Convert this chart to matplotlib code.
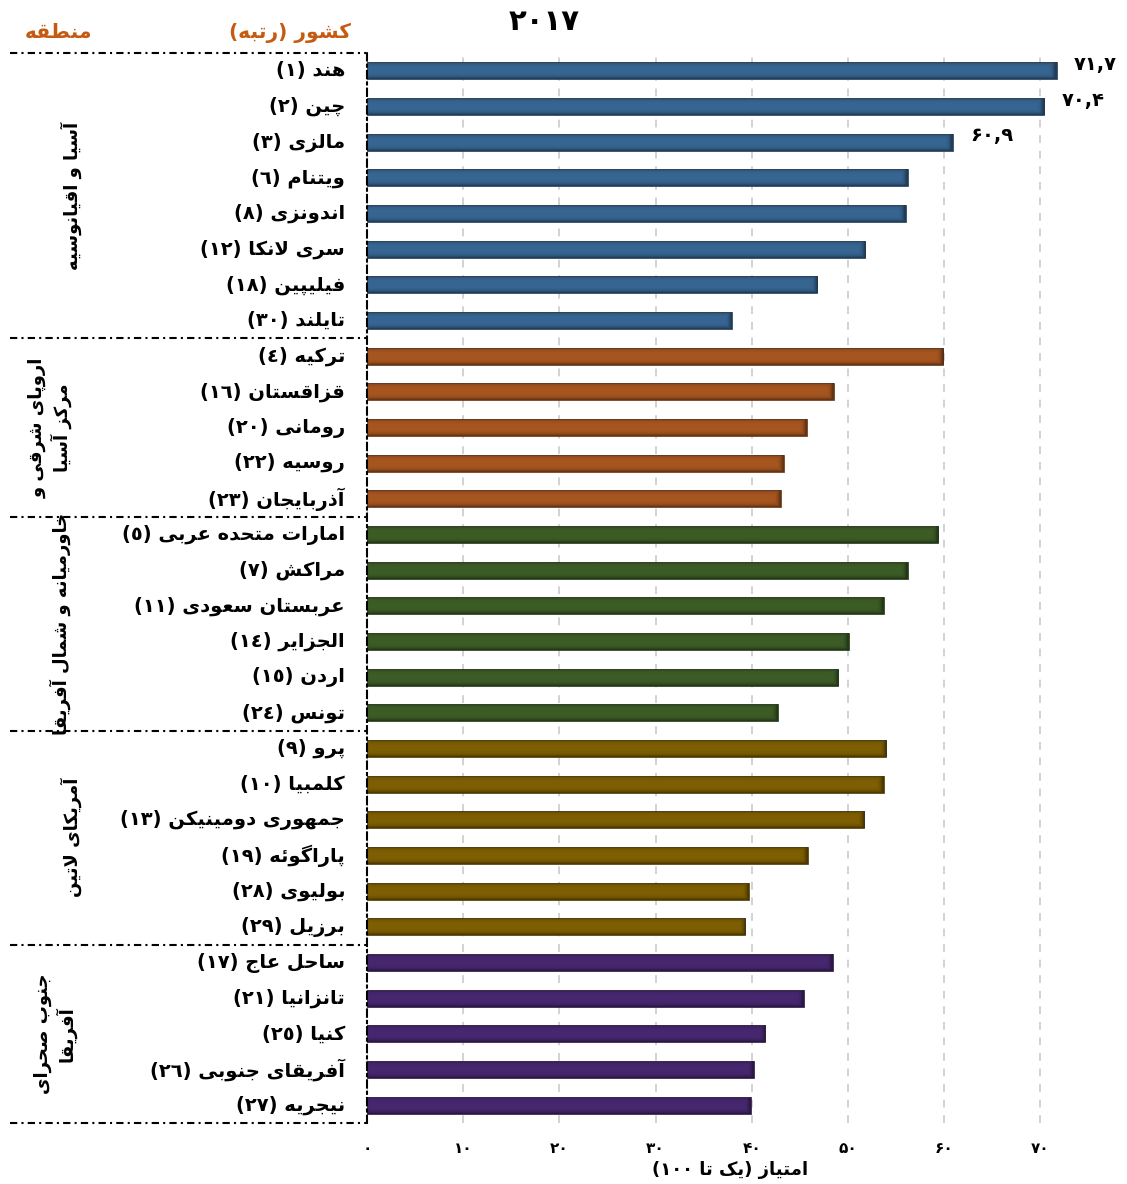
import re
import numpy as np
import matplotlib
matplotlib.use("Agg")
import matplotlib.pyplot as plt
from matplotlib.transforms import blended_transform_factory

# ---------------------------------------------------------------- data
countries = ['هند', 'چین', 'مالزی', 'ویتنام', 'اندونزی', 'سری لانکا', 'فیلیپین', 'تایلند',
             'ترکیه', 'قزاقستان', 'رومانی', 'روسیه', 'آذربایجان',
             'امارات متحده عربی', 'مراکش', 'عربستان سعودی', 'الجزایر', 'اردن', 'تونس',
             'پرو', 'کلمبیا', 'جمهوری دومینیکن', 'پاراگوئه', 'بولیوی', 'برزیل',
             'ساحل عاج', 'تانزانیا', 'کنیا', 'آفریقای جنوبی', 'نیجریه']
ranks = [1, 2, 3, 6, 8, 12, 18, 30,
         4, 16, 20, 22, 23,
         5, 7, 11, 14, 15, 24,
         9, 10, 13, 19, 28, 29,
         17, 21, 25, 26, 27]
scores = [71.7, 70.4, 60.9, 56.2, 56.0, 51.8, 46.8, 37.9,
          59.9, 48.5, 45.7, 43.3, 43.0,
          59.4, 56.2, 53.7, 50.1, 49.0, 42.7,
          54.0, 53.7, 51.7, 45.8, 39.7, 39.3,
          48.4, 45.4, 41.4, 40.2, 39.9]
region_names = [['آسیا و اقیانوسیه'],
                ['اروپای شرقی و', 'مرکز آسیا'],
                ['خاورمیانه و شمال آفریقا'],
                ['آمریکای لاتین'],
                ['جنوب صحرای', 'آفریقا']]
region_sizes = [8, 5, 6, 6, 5]
region_colors = ['#376592', '#a6551f', '#3c5c26', '#7e5e02', '#46276f']
labelled_top = 3          # scores printed beside the first bars
xticks = [0, 10, 20, 30, 40, 50, 60, 70]
title_year = '۲۰۱۷'
header_region = 'منطقه'
header_country = 'کشور (رتبه)'
xlabel = 'امتیاز (یک تا ۱۰۰)'

# ---------------------------------------------------------------- Persian shaping
FORMS = {
    'ا': ('\uFE8D', '\uFE8E'), 'آ': ('\uFE81', '\uFE82'),
    'ب': ('\uFE8F', '\uFE90', '\uFE91', '\uFE92'), 'پ': ('\uFB56', '\uFB57', '\uFB58', '\uFB59'),
    'ت': ('\uFE95', '\uFE96', '\uFE97', '\uFE98'), 'ث': ('\uFE99', '\uFE9A', '\uFE9B', '\uFE9C'),
    'ج': ('\uFE9D', '\uFE9E', '\uFE9F', '\uFEA0'), 'چ': ('\uFB7A', '\uFB7B', '\uFB7C', '\uFB7D'),
    'ح': ('\uFEA1', '\uFEA2', '\uFEA3', '\uFEA4'), 'خ': ('\uFEA5', '\uFEA6', '\uFEA7', '\uFEA8'),
    'د': ('\uFEA9', '\uFEAA'), 'ذ': ('\uFEAB', '\uFEAC'),
    'ر': ('\uFEAD', '\uFEAE'), 'ز': ('\uFEAF', '\uFEB0'), 'ژ': ('\uFB8A', '\uFB8B'),
    'س': ('\uFEB1', '\uFEB2', '\uFEB3', '\uFEB4'), 'ش': ('\uFEB5', '\uFEB6', '\uFEB7', '\uFEB8'),
    'ص': ('\uFEB9', '\uFEBA', '\uFEBB', '\uFEBC'), 'ض': ('\uFEBD', '\uFEBE', '\uFEBF', '\uFEC0'),
    'ط': ('\uFEC1', '\uFEC2', '\uFEC3', '\uFEC4'), 'ظ': ('\uFEC5', '\uFEC6', '\uFEC7', '\uFEC8'),
    'ع': ('\uFEC9', '\uFECA', '\uFECB', '\uFECC'), 'غ': ('\uFECD', '\uFECE', '\uFECF', '\uFED0'),
    'ف': ('\uFED1', '\uFED2', '\uFED3', '\uFED4'), 'ق': ('\uFED5', '\uFED6', '\uFED7', '\uFED8'),
    'ک': ('\uFB8E', '\uFB8F', '\uFB90', '\uFB91'), 'گ': ('\uFB92', '\uFB93', '\uFB94', '\uFB95'),
    'ل': ('\uFEDD', '\uFEDE', '\uFEDF', '\uFEE0'), 'م': ('\uFEE1', '\uFEE2', '\uFEE3', '\uFEE4'),
    'ن': ('\uFEE5', '\uFEE6', '\uFEE7', '\uFEE8'), 'ه': ('\uFEE9', '\uFEEA', '\uFEEB', '\uFEEC'),
    'و': ('\uFEED', '\uFEEE'), 'ی': ('\uFBFC', '\uFBFD', '\uFBFE', '\uFBFF'),
    'ئ': ('\uFE89', '\uFE8A', '\uFE8B', '\uFE8C'),
}
LAM_ALEF = {'ا': ('\uFEFB', '\uFEFC'), 'آ': ('\uFEF5', '\uFEF6')}
MIRROR = str.maketrans('()', ')(')
DIGIT_RUN = r'[0-9\u0660-\u0669\u06F0-\u06F9.,]+'


def join_type(c):
    if c in FORMS:
        return 'D' if len(FORMS[c]) == 4 else 'R'
    return 'U'


def shape(text):
    out, i, n = [], 0, len(text)
    while i < n:
        c = text[i]
        if c not in FORMS:
            out.append(c)
            i += 1
            continue
        joins_prev = i > 0 and join_type(text[i - 1]) == 'D'
        if c == 'ل' and i + 1 < n and text[i + 1] in LAM_ALEF:
            out.append(LAM_ALEF[text[i + 1]][1 if joins_prev else 0])
            i += 2
            continue
        joins_next = (join_type(c) == 'D' and i + 1 < n
                      and join_type(text[i + 1]) in ('D', 'R'))
        f = FORMS[c]
        if joins_prev and joins_next:
            out.append(f[3])
        elif joins_prev:
            out.append(f[1])
        elif joins_next:
            out.append(f[2])
        else:
            out.append(f[0])
        i += 1
    return ''.join(out)


def fa(text):
    """Shaped, right-to-left text in left-to-right display order."""
    s = shape(text)
    runs = re.findall(DIGIT_RUN + '|[^0-9\u0660-\u0669\u06F0-\u06F9.,]+', s)
    parts = []
    for r in reversed(runs):
        if re.fullmatch(DIGIT_RUN, r):
            parts.append(r)
        else:
            parts.append(r[::-1].translate(MIRROR))
    return ''.join(parts)


ARABIC_DIGITS = str.maketrans('0123456789', '٠١٢٣٤٥٦٧٨٩')
PERSIAN_DIGITS = str.maketrans('0123456789', '۰۱۲۳۴۵۶۷۸۹')

# ---------------------------------------------------------------- figure
plt.rcParams['font.family'] = ['DejaVu Sans']
plt.rcParams['font.weight'] = 'bold'

W, H = 1127, 1184
fig = plt.figure(figsize=(W / 100, H / 100), dpi=100)
ax = fig.add_axes([367 / W, 1 - 1123 / H, 1 - 367 / W, (1123 - 53) / H])

n = len(scores)
ypos = np.arange(n)
bar_colors = []
for col, k in zip(region_colors, region_sizes):
    bar_colors += [col] * k

edge_colors = []
for c in bar_colors:
    rgb = np.array(matplotlib.colors.to_rgb(c))
    edge_colors.append(tuple(rgb * 0.55))

bars = ax.barh(ypos, scores, height=0.48, color=bar_colors,
               edgecolor=edge_colors, linewidth=0.5, zorder=3)

# soft bevel shading on each bar
rows = 40
t = np.linspace(0, 1, rows)
vert = np.clip(np.abs(t - 0.5) * 2, 0, 1) ** 4 * 0.45
for b in bars:
    x0, y0, w, h = b.get_x(), b.get_y(), b.get_width(), b.get_height()
    cols = 200
    u = np.linspace(0, 1, cols)
    edge_frac = 6.0 / (w * 9.6)
    horiz = np.clip((u - (1 - edge_frac)) / edge_frac, 0, 1) ** 2 * 0.4
    alpha = np.maximum(vert[:, None], horiz[None, :])
    img = np.zeros((rows, cols, 4))
    img[..., 3] = alpha
    im = ax.imshow(img, extent=[x0, x0 + w, y0 + h, y0], aspect='auto',
                   interpolation='bilinear', zorder=3.5)
    im.set_clip_path(b)

ax.set_xlim(0, 79)
ax.set_ylim(n - 0.5, -0.5)

# gridlines and spines
ax.set_axisbelow(True)
ax.xaxis.grid(True, color='#d2d2d2', linestyle=(0, (4, 4)), linewidth=1.4)
ax.yaxis.grid(False)
for side in ('top', 'right', 'bottom'):
    ax.spines[side].set_visible(False)
ax.spines['left'].set_linestyle((0, (3.5, 2, 1, 2)))
ax.spines['left'].set_linewidth(1.5)
ax.spines['left'].set_zorder(4)

ax.set_yticks([])
ax.set_xticks(xticks)
ax.set_xticklabels([str(v).translate(PERSIAN_DIGITS) for v in xticks],
                   fontsize=11, fontweight='bold')
ax.tick_params(axis='x', length=0, pad=13)

# country labels, right-aligned beside the axis
ytr = blended_transform_factory(fig.transFigure, ax.transData)
for y, name, r in zip(ypos, countries, ranks):
    label = fa(f'{name} ({str(r).translate(ARABIC_DIGITS)})')
    fig.text(345 / W, y, label, transform=ytr, ha='right', va='center',
             fontsize=14, fontweight='bold')

# score labels beside the leading bars
for y, v in zip(ypos[:labelled_top], scores[:labelled_top]):
    s = f'{v:.1f}'.replace('.', ',').translate(PERSIAN_DIGITS)
    ax.text(v + 1.8, y - 0.18, s, ha='left', va='center', fontsize=14,
            fontweight='bold', clip_on=False)

# region separators
bounds = np.concatenate([[0], np.cumsum(region_sizes)]) - 0.5
for yb in bounds:
    ax.plot([10 / W, 366 / W], [yb, yb], transform=ytr, color='black',
            linewidth=1.5, linestyle=(0, (3.5, 2, 1, 2)), clip_on=False)

# region names
region_x = [71, 50, 60, 71, 55]
for lines, lo, hi, xp in zip(region_names, bounds[:-1], bounds[1:], region_x):
    txt = '\n'.join(fa(s) for s in lines)
    fig.text(xp / W, (lo + hi) / 2, txt, transform=ytr, rotation=90,
             ha='center', va='center', multialignment='center',
             fontsize=13, fontweight='bold', linespacing=1.2)

# headers, title and axis caption
orange = '#c55a11'
fig.text(58 / W, 1 - 33 / H, fa(header_region), ha='center', va='center',
         fontsize=14.5, fontweight='bold', color=orange)
fig.text(351 / W, 1 - 33 / H, fa(header_country), ha='right', va='center',
         fontsize=14.5, fontweight='bold', color=orange)
fig.text(544 / W, 1 - 22 / H, title_year, ha='center', va='center',
         fontsize=21, fontweight='bold')
fig.text(730 / W, 1 - 1170 / H, fa(xlabel), ha='center', va='center',
         fontsize=13, fontweight='bold')

fig.savefig('out.png', dpi=100, facecolor='white')
